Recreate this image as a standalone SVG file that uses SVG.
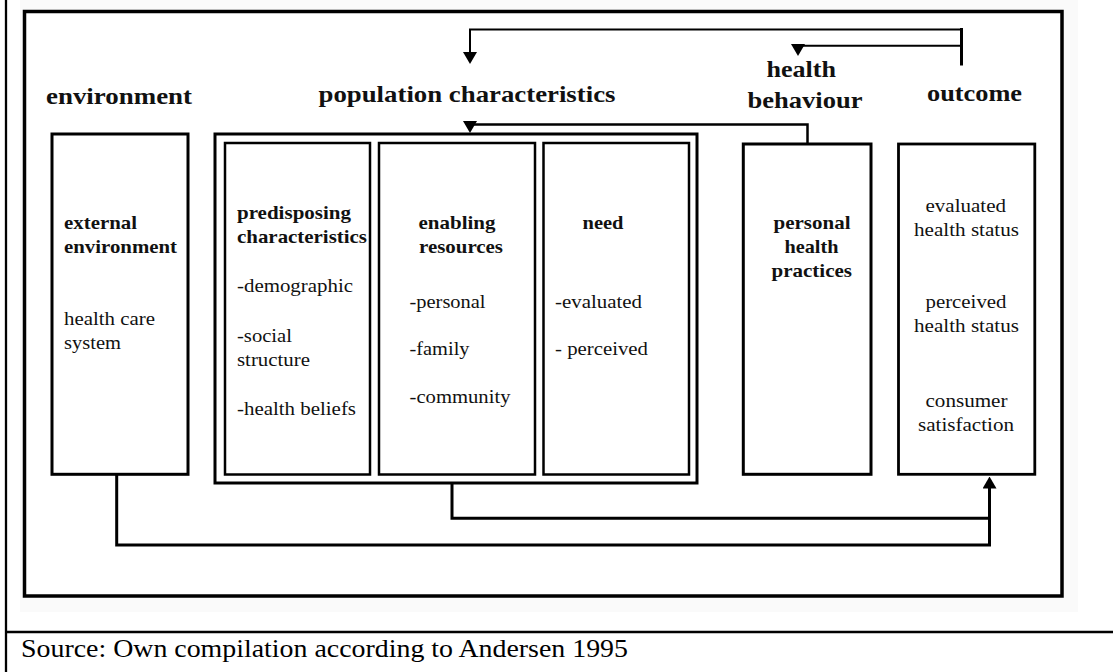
<svg xmlns="http://www.w3.org/2000/svg" width="1113" height="672" viewBox="0 0 1113 672">
  <style>
    .box { fill: none; stroke: #000; stroke-width: 3; }
    .sub { fill: none; stroke: #000; stroke-width: 2.5; }
    .head { font-family: "Liberation Serif", "Times New Roman", serif; font-weight: bold; font-size: 24px; fill: #111; }
    .b { font-family: "Liberation Serif", "Times New Roman", serif; font-weight: bold; font-size: 19px; fill: #111; }
    .t { font-family: "Liberation Serif", "Times New Roman", serif; font-size: 19px; fill: #111; }
    .src { font-family: "Liberation Serif", "Times New Roman", serif; font-size: 25px; fill: #000; }
    .ln { fill: none; stroke: #000; stroke-linejoin: miter; }
  </style>
  <defs>
    <marker id="arrow" viewBox="0 0 12 14" refX="6" refY="7" markerWidth="12" markerHeight="14" markerUnits="userSpaceOnUse" orient="auto">
      <path d="M0,0 L12,7 L0,14 z" fill="#000"/>
    </marker>
  </defs>

  <!-- page background and page rules -->
  <rect x="0" y="0" width="1113" height="672" fill="#fff"/>
  <rect x="20" y="0" width="1058" height="612" fill="#fafafa"/>
  <line x1="6" y1="0" x2="6" y2="672" stroke="#000" stroke-width="2.3"/>
  <line x1="5" y1="632" x2="1113" y2="632" stroke="#000" stroke-width="2.5"/>

  <!-- figure frame -->
  <rect x="24.5" y="11.5" width="1037.5" height="584.5" fill="#fff" stroke="#000" stroke-width="3.5"/>

  <!-- column headings -->
  <g id="headings">
    <text class="head" x="46" y="104" textLength="146" lengthAdjust="spacingAndGlyphs">environment</text>
    <text class="head" x="318.5" y="102" textLength="297" lengthAdjust="spacingAndGlyphs">population characteristics</text>
    <text class="head" x="766.5" y="77" textLength="69.5" lengthAdjust="spacingAndGlyphs">health</text>
    <text class="head" x="747.5" y="107.5" textLength="115" lengthAdjust="spacingAndGlyphs">behaviour</text>
    <text class="head" x="927" y="100.5" textLength="95" lengthAdjust="spacingAndGlyphs">outcome</text>
  </g>

  <!-- environment -->
  <g id="node-environment">
    <rect class="box" x="52" y="134" width="136" height="340.3"/>
    <text class="b" x="64" y="228.5" textLength="73" lengthAdjust="spacingAndGlyphs">external</text>
    <text class="b" x="64" y="252.5" textLength="113" lengthAdjust="spacingAndGlyphs">environment</text>
    <text class="t" x="64" y="325" textLength="91" lengthAdjust="spacingAndGlyphs">health care</text>
    <text class="t" x="64" y="349" textLength="57" lengthAdjust="spacingAndGlyphs">system</text>
  </g>

  <!-- population characteristics -->
  <g id="node-population">
    <rect class="box" x="215" y="134" width="482" height="349"/>
  </g>

  <g id="node-predisposing">
    <rect class="sub" x="225" y="143" width="145" height="331.5"/>
    <text class="b" x="237" y="219" textLength="114" lengthAdjust="spacingAndGlyphs">predisposing</text>
    <text class="b" x="237" y="243" textLength="130" lengthAdjust="spacingAndGlyphs">characteristics</text>
    <text class="t" x="237" y="291.5" textLength="116" lengthAdjust="spacingAndGlyphs">-demographic</text>
    <text class="t" x="237" y="342" textLength="55" lengthAdjust="spacingAndGlyphs">-social</text>
    <text class="t" x="237" y="366" textLength="73" lengthAdjust="spacingAndGlyphs">structure</text>
    <text class="t" x="237" y="414.5" textLength="119" lengthAdjust="spacingAndGlyphs">-health beliefs</text>
  </g>

  <g id="node-enabling">
    <rect class="sub" x="379" y="143" width="156" height="331.5"/>
    <text class="b" x="418.5" y="228.5" textLength="77" lengthAdjust="spacingAndGlyphs">enabling</text>
    <text class="b" x="419" y="252.5" textLength="84" lengthAdjust="spacingAndGlyphs">resources</text>
    <text class="t" x="409.5" y="307.5" textLength="76" lengthAdjust="spacingAndGlyphs">-personal</text>
    <text class="t" x="409.5" y="354.5" textLength="60" lengthAdjust="spacingAndGlyphs">-family</text>
    <text class="t" x="409.5" y="403" textLength="101" lengthAdjust="spacingAndGlyphs">-community</text>
  </g>

  <g id="node-need">
    <rect class="sub" x="543.5" y="143" width="145.5" height="331.5"/>
    <text class="b" x="582.5" y="228.5" textLength="41" lengthAdjust="spacingAndGlyphs">need</text>
    <text class="t" x="555" y="307.5" textLength="87" lengthAdjust="spacingAndGlyphs">-evaluated</text>
    <text class="t" x="555" y="354.5" textLength="93" lengthAdjust="spacingAndGlyphs">- perceived</text>
  </g>

  <!-- health behaviour -->
  <g id="node-health-behaviour">
    <rect class="box" x="743.3" y="144" width="127.7" height="330.3"/>
    <text class="b" x="773.5" y="228.5" textLength="77" lengthAdjust="spacingAndGlyphs">personal</text>
    <text class="b" x="784.5" y="252.5" textLength="54" lengthAdjust="spacingAndGlyphs">health</text>
    <text class="b" x="771.5" y="276.5" textLength="80.5" lengthAdjust="spacingAndGlyphs">practices</text>
  </g>

  <!-- outcome -->
  <g id="node-outcome">
    <rect class="box" x="898.5" y="144" width="136.3" height="330.3" style="stroke-width:2.8"/>
    <text class="t" x="925.5" y="211.5" textLength="80.5" lengthAdjust="spacingAndGlyphs">evaluated</text>
    <text class="t" x="914" y="236" textLength="105" lengthAdjust="spacingAndGlyphs">health status</text>
    <text class="t" x="925.5" y="307.5" textLength="81" lengthAdjust="spacingAndGlyphs">perceived</text>
    <text class="t" x="914" y="332" textLength="105" lengthAdjust="spacingAndGlyphs">health status</text>
    <text class="t" x="925.5" y="407" textLength="82" lengthAdjust="spacingAndGlyphs">consumer</text>
    <text class="t" x="918" y="430.5" textLength="96" lengthAdjust="spacingAndGlyphs">satisfaction</text>
  </g>

  <!-- connectors -->
  <g id="connectors">
    <!-- feedback from outcome -->
    <line class="ln" x1="961.5" y1="28" x2="961.5" y2="65.5" stroke-width="3"/>
    <polyline class="ln" points="961.5,29.5 470,29.5 470,58" stroke-width="2" marker-end="url(#arrow)"/>
    <polyline class="ln" points="961.5,45.7 798,45.7 798,50" stroke-width="2" marker-end="url(#arrow)"/>
    <!-- feedback from health behaviour -->
    <polyline class="ln" points="807.5,144 807.5,124.5 470,124.5 470,127" stroke-width="2.5" marker-end="url(#arrow)"/>
    <!-- forward links into outcome -->
    <polyline class="ln" points="452,483 452,518.3 989.5,518.3" stroke-width="3"/>
    <polyline class="ln" points="116.7,474.3 116.7,545 989.5,545 989.5,482.5" stroke-width="3" marker-end="url(#arrow)"/>
  </g>

  <!-- caption -->
  <text class="src" x="21" y="656.5" textLength="607" lengthAdjust="spacingAndGlyphs">Source: Own compilation according to Andersen 1995</text>
</svg>
